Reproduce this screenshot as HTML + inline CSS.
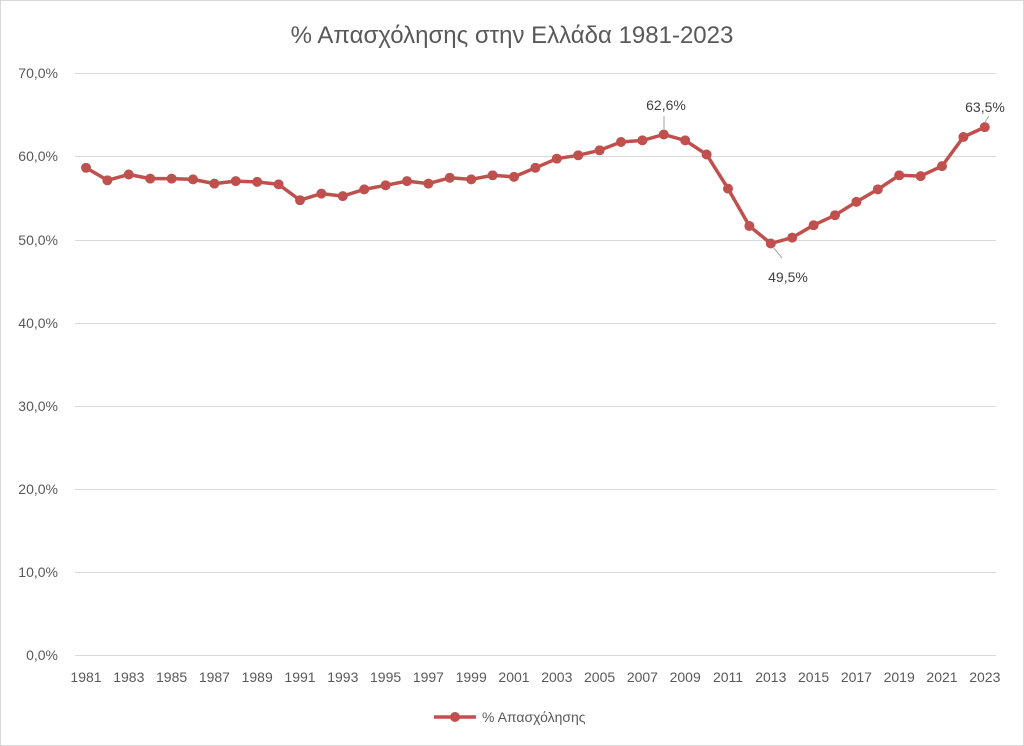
<!DOCTYPE html>
<html><head><meta charset="utf-8"><style>
body{margin:0;background:#fff;}
svg{display:block;font-family:"Liberation Sans","DejaVu Sans",sans-serif;}
</style></head><body>
<svg width="1024" height="746" viewBox="0 0 1024 746">
<defs><marker id="m" viewBox="0 0 10 10" refX="5" refY="5" markerWidth="10" markerHeight="10" markerUnits="userSpaceOnUse"><circle cx="5" cy="5" r="5" fill="#c0504d"/></marker></defs>
<rect x="0.5" y="0.5" width="1023" height="745" fill="#fff" stroke="#d9d9d9"/>
<text x="512" y="43" text-anchor="middle" font-size="24" fill="#595959">% Απασχόλησης στην Ελλάδα 1981-2023</text>
<g stroke="#d9d9d9" stroke-width="1">
<line x1="75" x2="996" y1="73.5" y2="73.5"/><line x1="75" x2="996" y1="156.5" y2="156.5"/>
<line x1="75" x2="996" y1="240.5" y2="240.5"/><line x1="75" x2="996" y1="323.5" y2="323.5"/>
<line x1="75" x2="996" y1="406.5" y2="406.5"/><line x1="75" x2="996" y1="489.5" y2="489.5"/>
<line x1="75" x2="996" y1="572.5" y2="572.5"/><line x1="75" x2="996" y1="655.5" y2="655.5"/>
</g>
<g font-size="14" fill="#595959" text-anchor="end">
<text x="58" y="78">70,0%</text><text x="58" y="161">60,0%</text><text x="58" y="245">50,0%</text>
<text x="58" y="328">40,0%</text><text x="58" y="411">30,0%</text><text x="58" y="494">20,0%</text>
<text x="58" y="577">10,0%</text><text x="58" y="660">0,0%</text>
</g>
<g font-size="14" fill="#595959" text-anchor="middle">
<text x="86" y="682">1981</text><text x="128.8" y="682">1983</text><text x="171.6" y="682">1985</text>
<text x="214.4" y="682">1987</text><text x="257.2" y="682">1989</text><text x="300" y="682">1991</text>
<text x="342.8" y="682">1993</text><text x="385.6" y="682">1995</text><text x="428.4" y="682">1997</text>
<text x="471.2" y="682">1999</text><text x="514" y="682">2001</text><text x="556.8" y="682">2003</text>
<text x="599.6" y="682">2005</text><text x="642.4" y="682">2007</text><text x="685.2" y="682">2009</text>
<text x="728" y="682">2011</text><text x="770.8" y="682">2013</text><text x="813.6" y="682">2015</text>
<text x="856.4" y="682">2017</text><text x="899.2" y="682">2019</text><text x="942" y="682">2021</text>
<text x="984.8" y="682">2023</text>
</g>
<polyline fill="none" stroke="#c0504d" stroke-width="3.5" stroke-linejoin="round" marker-start="url(#m)" marker-mid="url(#m)" marker-end="url(#m)" points="86,167.8 107.4,180.3 128.8,174.5 150.2,178.6 171.6,178.6 193,179.4 214.4,183.6 235.8,181.1 257.2,181.9 278.6,184.4 300,200.2 321.4,193.6 342.8,196.1 364.2,189.4 385.6,185.3 407,181.1 428.4,183.6 449.8,177.8 471.2,179.4 492.6,175.3 514,176.9 535.4,167.8 556.8,158.7 578.2,155.3 599.6,150.3 621,142 642.4,140.4 663.8,134.5 685.2,140.4 706.6,154.5 728,188.6 749.4,226 770.8,243.5 792.2,237.6 813.6,225.2 835,215.2 856.4,201.9 877.8,189.4 899.2,175.3 920.6,176.1 942,166.1 963.4,137 984.8,127.1"/>
<g stroke="#a6a6a6" stroke-width="1">
<line x1="664" y1="116" x2="664" y2="129"/><line x1="773" y1="247" x2="782" y2="258"/><line x1="989" y1="116" x2="985" y2="122"/>
</g>
<g font-size="14" fill="#404040" text-anchor="middle">
<text x="666" y="110">62,6%</text><text x="788" y="282">49,5%</text><text x="985" y="112">63,5%</text>
</g>
<line x1="434" y1="717" x2="476" y2="717" stroke="#c0504d" stroke-width="3.5"/>
<circle cx="455" cy="717" r="5" fill="#c0504d"/>
<text x="482" y="722" font-size="14" fill="#595959">% Απασχόλησης</text>
</svg>
</body></html>
